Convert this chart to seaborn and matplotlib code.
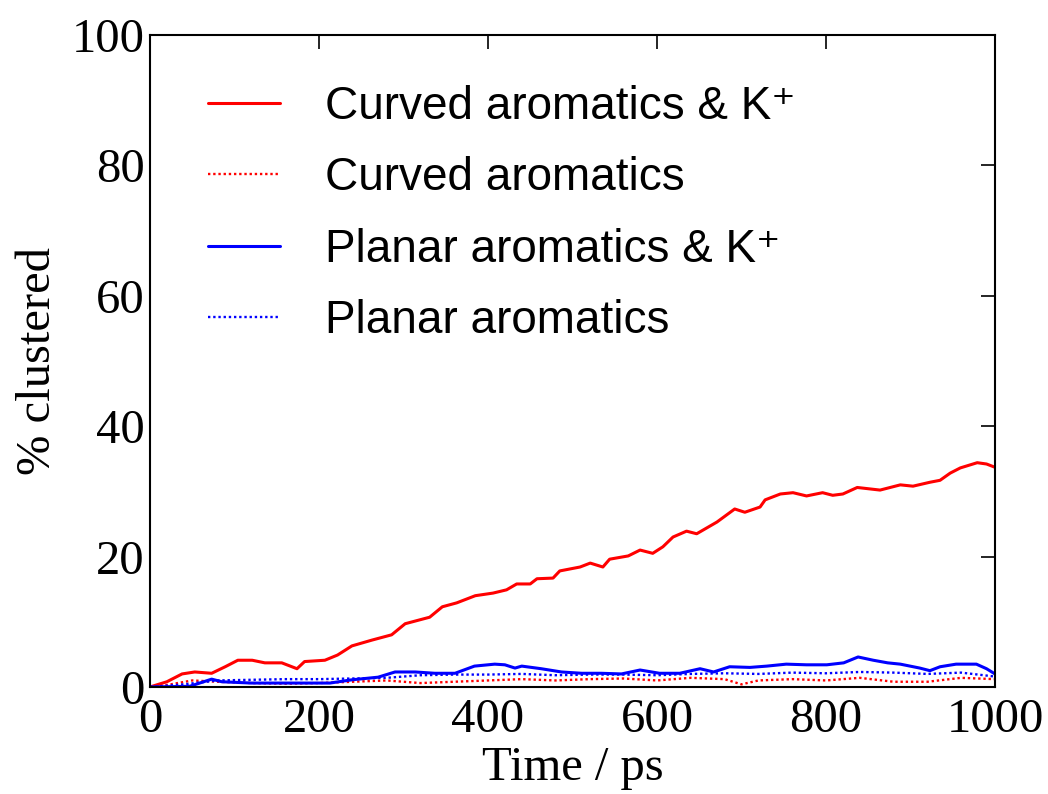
import matplotlib
matplotlib.use("Agg")
import matplotlib.pyplot as plt
import seaborn as sns
import pandas as pd

# ---- data ----
curved_k_t = [0, 20, 38, 53, 73, 89, 104, 121, 136, 156, 174, 183, 207, 222, 239, 263, 286,
              302, 331, 346, 363, 385, 406, 422, 434, 450, 458, 477, 485, 509, 521, 536, 544,
              566, 580, 595, 607, 619, 635, 647, 671, 692, 704, 722, 728, 746, 761, 777, 796,
              808, 820, 837, 864, 888, 903, 923, 935, 947, 959, 979, 990, 1000]
curved_k_v = [0, 0.8, 2.0, 2.3, 2.1, 3.1, 4.1, 4.1, 3.7, 3.7, 2.8, 3.9, 4.1, 4.9, 6.3, 7.2, 8.0,
              9.7, 10.7, 12.3, 12.9, 14.0, 14.4, 14.9, 15.8, 15.8, 16.6, 16.7, 17.8, 18.4, 19.0,
              18.4, 19.6, 20.1, 21.0, 20.5, 21.5, 23.0, 23.9, 23.5, 25.3, 27.3, 26.8, 27.6, 28.7,
              29.6, 29.8, 29.3, 29.8, 29.4, 29.6, 30.6, 30.2, 31.0, 30.8, 31.4, 31.7, 32.8, 33.6,
              34.4, 34.2, 33.7]

curved_t = [0, 20, 50, 80, 120, 160, 200, 240, 280, 320, 360, 400, 440, 480, 520, 560, 600,
            640, 680, 700, 720, 760, 800, 840, 880, 920, 960, 1000]
curved_v = [0, 0.3, 1.0, 0.8, 0.6, 0.5, 0.6, 0.8, 1.0, 0.6, 0.8, 1.0, 1.2, 1.0, 1.2, 1.3, 1.0,
            1.4, 1.2, 0.4, 1.0, 1.2, 1.0, 1.4, 0.8, 0.8, 1.4, 1.2]

planar_k_t = [0, 47, 73, 85, 120, 160, 200, 213, 239, 270, 290, 314, 337, 361, 384, 408, 420,
              432, 440, 463, 487, 511, 534, 558, 580, 603, 627, 651, 667, 686, 710, 730, 753,
              777, 801, 821, 838, 856, 873, 888, 911, 923, 935, 954, 978, 990, 1000]
planar_k_v = [0, 0.1, 1.2, 0.8, 0.6, 0.6, 0.6, 0.6, 1.1, 1.5, 2.3, 2.3, 2.1, 2.1, 3.2, 3.5, 3.4,
              2.9, 3.2, 2.8, 2.3, 2.1, 2.1, 2.0, 2.6, 2.1, 2.1, 2.8, 2.3, 3.1, 3.0, 3.2, 3.5,
              3.4, 3.4, 3.7, 4.6, 4.1, 3.7, 3.5, 2.9, 2.5, 3.1, 3.5, 3.5, 2.8, 2.0]

planar_t = [0, 40, 80, 120, 160, 200, 240, 280, 320, 360, 400, 440, 480, 520, 560, 600, 640,
            680, 720, 760, 800, 840, 880, 920, 960, 1000]
planar_v = [0, 0.4, 1.0, 1.1, 1.2, 1.2, 1.3, 1.4, 1.8, 1.9, 1.9, 2.0, 1.8, 1.9, 1.9, 1.8, 2.0,
            2.1, 2.0, 2.2, 2.1, 2.3, 2.2, 2.0, 2.2, 1.6]

labels = ["Curved aromatics & K\u207a", "Curved aromatics",
          "Planar aromatics & K\u207a", "Planar aromatics"]
x_ticks = [0, 200, 400, 600, 800, 1000]
y_ticks = [0, 20, 40, 60, 80, 100]

# ---- build long table ----
frames = []
for lab, t, v in zip(labels, [curved_k_t, curved_t, planar_k_t, planar_t],
                     [curved_k_v, curved_v, planar_k_v, planar_v]):
    frames.append(pd.DataFrame({"Time": t, "Value": v, "Series": lab}))
df = pd.concat(frames, ignore_index=True)

sns.set_style("white")
plt.rcParams["font.family"] = ["Liberation Serif", "DejaVu Serif"]
plt.rcParams["text.color"] = "black"
plt.rcParams["axes.labelcolor"] = "black"
plt.rcParams["xtick.color"] = "black"
plt.rcParams["ytick.color"] = "black"

fig = plt.figure(figsize=(10.48, 7.94), dpi=100)
ax = fig.add_axes([0.1431, 0.1348, 0.8063, 0.8211])

colors = {labels[0]: "#ff0000", labels[1]: "#ff0000",
          labels[2]: "#0000ff", labels[3]: "#0000ff"}
styles = {labels[0]: "-", labels[1]: (0, (1, 1.2)),
          labels[2]: "-", labels[3]: (0, (1, 1.2))}

for lab in labels:
    sub = df[df["Series"] == lab]
    sns.lineplot(data=sub, x="Time", y="Value", ax=ax, color=colors[lab],
                 linestyle=styles[lab], linewidth=2.2 if styles[lab] == "-" else 1.7,
                 label=lab, estimator=None, sort=False)

ax.set_xlim(0, 1000)
ax.set_ylim(0, 100)
ax.set_xticks(x_ticks)
ax.set_yticks(y_ticks)
ax.tick_params(direction="in", length=10, width=1.2, top=True, right=True,
               labelsize=35, color="black", labelcolor="black")
ax.tick_params(axis="x", pad=8)
ax.tick_params(axis="y", pad=4)
for s in ax.spines.values():
    s.set_color("black")
    s.set_linewidth(1.5)

ax.set_xlabel("Time / ps", fontsize=35, labelpad=3, color="black")
ax.set_ylabel("% clustered", fontsize=35, labelpad=8, color="black")

leg = ax.legend(loc="upper left", frameon=False,
                prop={"family": ["Liberation Sans", "DejaVu Sans"], "size": 33},
                handlelength=1.57, handletextpad=0.98, labelspacing=0.6,
                borderaxespad=0, borderpad=0, bbox_to_anchor=(0.0686, 0.924))
for txt in leg.get_texts():
    txt.set_color("black")

fig.savefig("out.png", dpi=100, facecolor="white")
